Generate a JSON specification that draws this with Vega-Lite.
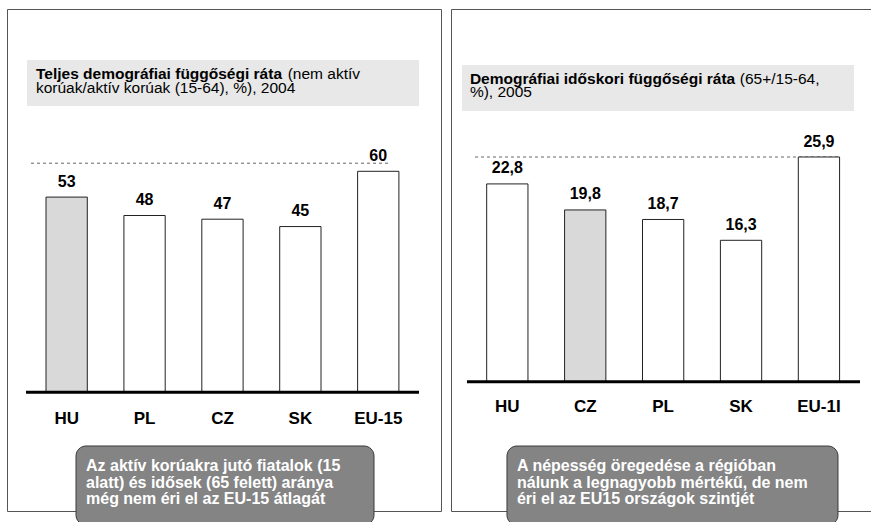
{
  "$schema": "https://vega.github.io/schema/vega-lite/v6.json",
  "padding": {"left": 6, "top": 8, "right": 0, "bottom": 0},
  "spacing": 8,
  "background": "white",
  "config": {
    "font": "Liberation Sans",
    "view": {"stroke": "#555555", "strokeWidth": 1},
    "locale": {"number": {"decimal": ",", "thousands": " ", "grouping": [3], "currency": ["", ""]}}
  },
  "datasets": {
    "total": [
      {"country": "HU", "value": 53},
      {"country": "PL", "value": 48},
      {"country": "CZ", "value": 47},
      {"country": "SK", "value": 45},
      {"country": "EU-15", "value": 60}
    ],
    "aged": [
      {"country": "HU", "value": 22.8},
      {"country": "CZ", "value": 19.8},
      {"country": "PL", "value": 18.7},
      {"country": "SK", "value": 16.3},
      {"country": "EU-1I", "value": 25.9}
    ]
  },
  "hconcat": [
    {
      "width": 434,
      "height": 502,
      "layer": [
        {
          "data": {"values": [{}]},
          "mark": {"type": "rect", "color": "#e8e8e8", "xOffset": -39.65, "x2Offset": 40.75},
          "encoding": {
            "x": {"datum": "HU", "type": "nominal", "scale": {"domain": ["HU", "PL", "CZ", "SK", "EU-15"], "paddingInner": 0.47, "paddingOuter": 0.5206, "align": 0.481}, "axis": null},
            "x2": {"datum": "EU-15"},
            "y": {"datum": 90.22, "type": "quantitative", "scale": {"domain": [-32.23, 104.07], "nice": false, "zero": false}, "axis": null},
            "y2": {"datum": 77.74}
          }
        },
        {
          "data": {"values": [{}]},
          "mark": {"type": "text", "align": "left", "baseline": "alphabetic", "fontSize": 15.5, "fontWeight": "bold", "color": "black", "dx": -30.7},
          "encoding": {
            "x": {"datum": "HU", "type": "nominal", "scale": {"domain": ["HU", "PL", "CZ", "SK", "EU-15"], "paddingInner": 0.47, "paddingOuter": 0.5206, "align": 0.481}, "axis": null},
            "y": {"datum": 84.93, "type": "quantitative", "scale": {"domain": [-32.23, 104.07], "nice": false, "zero": false}, "axis": null},
            "text": {"value": "Teljes demográfiai függőségi ráta"}
          }
        },
        {
          "data": {"values": [{}]},
          "mark": {"type": "text", "align": "left", "baseline": "alphabetic", "fontSize": 15.5, "color": "black", "dx": 221},
          "encoding": {
            "x": {"datum": "HU", "type": "nominal", "scale": {"domain": ["HU", "PL", "CZ", "SK", "EU-15"], "paddingInner": 0.47, "paddingOuter": 0.5206, "align": 0.481}, "axis": null},
            "y": {"datum": 84.93, "type": "quantitative", "scale": {"domain": [-32.23, 104.07], "nice": false, "zero": false}, "axis": null},
            "text": {"value": "(nem aktív"}
          }
        },
        {
          "data": {"values": [{}]},
          "mark": {"type": "text", "align": "left", "baseline": "alphabetic", "fontSize": 15.5, "color": "black", "dx": -30.7},
          "encoding": {
            "x": {"datum": "HU", "type": "nominal", "scale": {"domain": ["HU", "PL", "CZ", "SK", "EU-15"], "paddingInner": 0.47, "paddingOuter": 0.5206, "align": 0.481}, "axis": null},
            "y": {"datum": 81.27, "type": "quantitative", "scale": {"domain": [-32.23, 104.07], "nice": false, "zero": false}, "axis": null},
            "text": {"value": "korúak/aktív korúak (15-64), %), 2004"}
          }
        },
        {
          "data": {"values": [{}]},
          "mark": {"type": "rule", "strokeDash": [3, 3], "color": "#666666", "strokeWidth": 1, "xOffset": -35.65, "x2Offset": 10.75},
          "encoding": {
            "x": {"datum": "HU", "type": "nominal", "scale": {"domain": ["HU", "PL", "CZ", "SK", "EU-15"], "paddingInner": 0.47, "paddingOuter": 0.5206, "align": 0.481}, "axis": null},
            "x2": {"datum": "EU-15"},
            "y": {"datum": 62.2, "type": "quantitative", "scale": {"domain": [-32.23, 104.07], "nice": false, "zero": false}, "axis": null}
          }
        },
        {
          "data": {"name": "total"},
          "mark": {"type": "bar", "stroke": "#222222", "strokeWidth": 1},
          "encoding": {
            "x": {"field": "country", "type": "nominal", "sort": null, "scale": {"domain": ["HU", "PL", "CZ", "SK", "EU-15"], "paddingInner": 0.47, "paddingOuter": 0.5206, "align": 0.481}, "axis": null},
            "y": {"field": "value", "type": "quantitative", "scale": {"domain": [-32.23, 104.07], "nice": false, "zero": false}, "axis": null},
            "y2": {"datum": 0},
            "fill": {"condition": {"test": "datum.country === 'HU'", "value": "#d9d9d9"}, "value": "#ffffff"}
          }
        },
        {
          "data": {"name": "total"},
          "mark": {"type": "text", "fontSize": 16, "fontWeight": "bold", "baseline": "middle", "dy": -15.5, "color": "black"},
          "encoding": {
            "x": {"field": "country", "type": "nominal", "sort": null, "scale": {"domain": ["HU", "PL", "CZ", "SK", "EU-15"], "paddingInner": 0.47, "paddingOuter": 0.5206, "align": 0.481}, "axis": null},
            "y": {"field": "value", "type": "quantitative", "scale": {"domain": [-32.23, 104.07], "nice": false, "zero": false}, "axis": null},
            "text": {"field": "value", "type": "quantitative", "format": "d"}
          }
        },
        {
          "data": {"name": "total"},
          "mark": {"type": "text", "fontSize": 17, "fontWeight": "bold", "baseline": "middle", "color": "black"},
          "encoding": {
            "x": {"field": "country", "type": "nominal", "sort": null, "scale": {"domain": ["HU", "PL", "CZ", "SK", "EU-15"], "paddingInner": 0.47, "paddingOuter": 0.5206, "align": 0.481}, "axis": null},
            "y": {"datum": -7.25, "type": "quantitative", "scale": {"domain": [-32.23, 104.07], "nice": false, "zero": false}, "axis": null},
            "text": {"field": "country", "type": "nominal"}
          }
        },
        {
          "data": {"values": [{}]},
          "mark": {"type": "rule", "color": "black", "strokeWidth": 3, "xOffset": -40.65, "x2Offset": 40.75},
          "encoding": {
            "x": {"datum": "HU", "type": "nominal", "scale": {"domain": ["HU", "PL", "CZ", "SK", "EU-15"], "paddingInner": 0.47, "paddingOuter": 0.5206, "align": 0.481}, "axis": null},
            "x2": {"datum": "EU-15"},
            "y": {"datum": 0, "type": "quantitative", "scale": {"domain": [-32.23, 104.07], "nice": false, "zero": false}, "axis": null}
          }
        },
        {
          "data": {"values": [{}]},
          "mark": {"type": "rect", "fill": "#848484", "stroke": "#3a3a3a", "strokeWidth": 1, "cornerRadius": 10, "xOffset": 9.35, "x2Offset": -4.25},
          "encoding": {
            "x": {"datum": "HU", "type": "nominal", "scale": {"domain": ["HU", "PL", "CZ", "SK", "EU-15"], "paddingInner": 0.47, "paddingOuter": 0.5206, "align": 0.481}, "axis": null},
            "x2": {"datum": "EU-15"},
            "y": {"datum": -14.58, "type": "quantitative", "scale": {"domain": [-32.23, 104.07], "nice": false, "zero": false}, "axis": null},
            "y2": {"datum": -36.03}
          }
        },
        {
          "data": {"values": [{}]},
          "mark": {"type": "text", "align": "left", "baseline": "alphabetic", "fontSize": 16, "fontWeight": "bold", "color": "white", "lineHeight": 16.5, "dx": 19.35},
          "encoding": {
            "x": {"datum": "HU", "type": "nominal", "scale": {"domain": ["HU", "PL", "CZ", "SK", "EU-15"], "paddingInner": 0.47, "paddingOuter": 0.5206, "align": 0.481}, "axis": null},
            "y": {"datum": -21.37, "type": "quantitative", "scale": {"domain": [-32.23, 104.07], "nice": false, "zero": false}, "axis": null},
            "text": {"value": ["Az aktív korúakra jutó fiatalok (15", "alatt) és idősek (65 felett) aránya", "még nem éri el az EU-15 átlagát"]}
          }
        }
      ]
    },
    {
      "width": 421,
      "height": 502,
      "layer": [
        {
          "data": {"values": [{}]},
          "mark": {"type": "rect", "color": "#e8e8e8", "xOffset": -45.35, "x2Offset": 35.05},
          "encoding": {
            "x": {"datum": "HU", "type": "nominal", "scale": {"domain": ["HU", "CZ", "PL", "SK", "EU-1I"], "paddingInner": 0.47, "paddingOuter": 0.437, "align": 0.524}, "axis": null},
            "x2": {"datum": "EU-1I"},
            "y": {"datum": 36.5, "type": "quantitative", "scale": {"domain": [-14.9, 42.96], "nice": false, "zero": false}, "axis": null},
            "y2": {"datum": 31.2}
          }
        },
        {
          "data": {"values": [{}]},
          "mark": {"type": "text", "align": "left", "baseline": "alphabetic", "fontSize": 15.5, "fontWeight": "bold", "color": "black", "dx": -37.4},
          "encoding": {
            "x": {"datum": "HU", "type": "nominal", "scale": {"domain": ["HU", "CZ", "PL", "SK", "EU-1I"], "paddingInner": 0.47, "paddingOuter": 0.437, "align": 0.524}, "axis": null},
            "y": {"datum": 34.31, "type": "quantitative", "scale": {"domain": [-14.9, 42.96], "nice": false, "zero": false}, "axis": null},
            "text": {"value": "Demográfiai időskori függőségi ráta"}
          }
        },
        {
          "data": {"values": [{}]},
          "mark": {"type": "text", "align": "left", "baseline": "alphabetic", "fontSize": 15.5, "color": "black", "dx": 232.5},
          "encoding": {
            "x": {"datum": "HU", "type": "nominal", "scale": {"domain": ["HU", "CZ", "PL", "SK", "EU-1I"], "paddingInner": 0.47, "paddingOuter": 0.437, "align": 0.524}, "axis": null},
            "y": {"datum": 34.31, "type": "quantitative", "scale": {"domain": [-14.9, 42.96], "nice": false, "zero": false}, "axis": null},
            "text": {"value": "(65+/15-64,"}
          }
        },
        {
          "data": {"values": [{}]},
          "mark": {"type": "text", "align": "left", "baseline": "alphabetic", "fontSize": 15.5, "color": "black", "dx": -37.4},
          "encoding": {
            "x": {"datum": "HU", "type": "nominal", "scale": {"domain": ["HU", "CZ", "PL", "SK", "EU-1I"], "paddingInner": 0.47, "paddingOuter": 0.437, "align": 0.524}, "axis": null},
            "y": {"datum": 32.81, "type": "quantitative", "scale": {"domain": [-14.9, 42.96], "nice": false, "zero": false}, "axis": null},
            "text": {"value": "%), 2005"}
          }
        },
        {
          "data": {"values": [{}]},
          "mark": {"type": "rule", "strokeDash": [3, 3], "color": "#666666", "strokeWidth": 1, "xOffset": -32.35, "x2Offset": 21.05},
          "encoding": {
            "x": {"datum": "HU", "type": "nominal", "scale": {"domain": ["HU", "CZ", "PL", "SK", "EU-1I"], "paddingInner": 0.47, "paddingOuter": 0.437, "align": 0.524}, "axis": null},
            "x2": {"datum": "EU-1I"},
            "y": {"datum": 25.9, "type": "quantitative", "scale": {"domain": [-14.9, 42.96], "nice": false, "zero": false}, "axis": null}
          }
        },
        {
          "data": {"name": "aged"},
          "mark": {"type": "bar", "stroke": "#222222", "strokeWidth": 1},
          "encoding": {
            "x": {"field": "country", "type": "nominal", "sort": null, "scale": {"domain": ["HU", "CZ", "PL", "SK", "EU-1I"], "paddingInner": 0.47, "paddingOuter": 0.437, "align": 0.524}, "axis": null},
            "y": {"field": "value", "type": "quantitative", "scale": {"domain": [-14.9, 42.96], "nice": false, "zero": false}, "axis": null},
            "y2": {"datum": 0},
            "fill": {"condition": {"test": "datum.country === 'CZ'", "value": "#d9d9d9"}, "value": "#ffffff"}
          }
        },
        {
          "data": {"name": "aged"},
          "mark": {"type": "text", "fontSize": 16, "fontWeight": "bold", "baseline": "middle", "dy": -15.5, "color": "black"},
          "encoding": {
            "x": {"field": "country", "type": "nominal", "sort": null, "scale": {"domain": ["HU", "CZ", "PL", "SK", "EU-1I"], "paddingInner": 0.47, "paddingOuter": 0.437, "align": 0.524}, "axis": null},
            "y": {"field": "value", "type": "quantitative", "scale": {"domain": [-14.9, 42.96], "nice": false, "zero": false}, "axis": null},
            "text": {"field": "value", "type": "quantitative", "format": ".1f"}
          }
        },
        {
          "data": {"name": "aged"},
          "mark": {"type": "text", "fontSize": 17, "fontWeight": "bold", "baseline": "middle", "color": "black"},
          "encoding": {
            "x": {"field": "country", "type": "nominal", "sort": null, "scale": {"domain": ["HU", "CZ", "PL", "SK", "EU-1I"], "paddingInner": 0.47, "paddingOuter": 0.437, "align": 0.524}, "axis": null},
            "y": {"datum": -2.95, "type": "quantitative", "scale": {"domain": [-14.9, 42.96], "nice": false, "zero": false}, "axis": null},
            "text": {"field": "country", "type": "nominal"}
          }
        },
        {
          "data": {"values": [{}]},
          "mark": {"type": "rule", "color": "black", "strokeWidth": 3, "xOffset": -40.35, "x2Offset": 41.05},
          "encoding": {
            "x": {"datum": "HU", "type": "nominal", "scale": {"domain": ["HU", "CZ", "PL", "SK", "EU-1I"], "paddingInner": 0.47, "paddingOuter": 0.437, "align": 0.524}, "axis": null},
            "x2": {"datum": "EU-1I"},
            "y": {"datum": 0, "type": "quantitative", "scale": {"domain": [-14.9, 42.96], "nice": false, "zero": false}, "axis": null}
          }
        },
        {
          "data": {"values": [{}]},
          "mark": {"type": "rect", "fill": "#848484", "stroke": "#3a3a3a", "strokeWidth": 1, "cornerRadius": 10, "xOffset": -0.35, "x2Offset": 19.05},
          "encoding": {
            "x": {"datum": "HU", "type": "nominal", "scale": {"domain": ["HU", "CZ", "PL", "SK", "EU-1I"], "paddingInner": 0.47, "paddingOuter": 0.437, "align": 0.524}, "axis": null},
            "x2": {"datum": "EU-1I"},
            "y": {"datum": -7.41, "type": "quantitative", "scale": {"domain": [-14.9, 42.96], "nice": false, "zero": false}, "axis": null},
            "y2": {"datum": -16.52}
          }
        },
        {
          "data": {"values": [{}]},
          "mark": {"type": "text", "align": "left", "baseline": "alphabetic", "fontSize": 16, "fontWeight": "bold", "color": "white", "lineHeight": 16.5, "dx": 9.65},
          "encoding": {
            "x": {"datum": "HU", "type": "nominal", "scale": {"domain": ["HU", "CZ", "PL", "SK", "EU-1I"], "paddingInner": 0.47, "paddingOuter": 0.437, "align": 0.524}, "axis": null},
            "y": {"datum": -10.29, "type": "quantitative", "scale": {"domain": [-14.9, 42.96], "nice": false, "zero": false}, "axis": null},
            "text": {"value": ["A népesség öregedése a régióban", "nálunk a legnagyobb mértékű, de nem", "éri el az EU15 országok szintjét"]}
          }
        }
      ]
    }
  ]
}
